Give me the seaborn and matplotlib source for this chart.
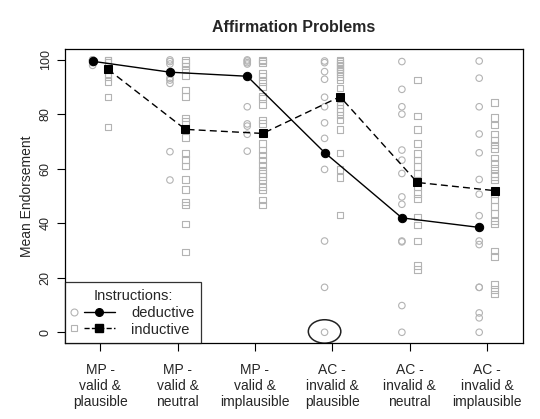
import numpy as np
import pandas as pd
import seaborn as sns
import matplotlib
matplotlib.use("Agg")
import matplotlib.pyplot as plt
from matplotlib.lines import Line2D
from matplotlib.patches import Ellipse
from matplotlib.legend_handler import HandlerBase

# conditions on the x axis
conditions = ["MP -\nvalid &\nplausible", "MP -\nvalid &\nneutral", "MP -\nvalid &\nimplausible",
              "AC -\ninvalid &\nplausible", "AC -\ninvalid &\nneutral", "AC -\ninvalid &\nimplausible"]

# mean endorsement per condition
ded_means = [99.5, 95.5, 94.0, 66.0, 42.0, 38.5]
ind_means = [96.5, 74.5, 73.0, 86.5, 55.0, 52.0]

# individual endorsement ratings
ded_points = [
    [100, 100, 100, 99, 98],
    [100, 99.4, 98.5, 93.3, 92.6, 91.4, 66.3, 55.9],
    [100, 99.6, 99, 98.5, 82.8, 76.5, 75.7, 72.7, 66.5],
    [99.6, 99, 95.7, 92.9, 86.3, 82.8, 76.9, 71.2, 59.8, 33.5, 16.5, 0],
    [99.4, 89.2, 82.8, 80.1, 66.9, 63.2, 58.3, 49.7, 47, 33.5, 33.2, 9.8, 0],
    [99.6, 93.3, 82.8, 72.8, 65.9, 56.1, 50.7, 42.8, 33.5, 32.2, 16.5, 16.5, 7.1, 5.3, 0],
]
ind_points = [
    [100, 100, 99, 97.5, 96.3, 95, 93.9, 92, 86.3, 75.3],
    [100, 99, 97.8, 96.3, 94.2, 89, 86.5, 78.6, 77.3, 74.5, 71.6, 65.7, 63.5, 61, 56.1,
     52.5, 47.9, 46.7, 39.7, 29.4],
    [100, 99.6, 98.8, 95.1, 93.9, 92, 90.2, 86.5, 85.9, 83.5, 77.9, 76.7, 73, 69.4, 66.9,
     65.1, 63.2, 61.4, 59.6, 58.3, 57.1, 55.9, 53.4, 52.2, 48.5, 46.7],
    [100, 99.4, 98.8, 98.2, 97.5, 96.9, 96.3, 95.7, 95.1, 93.9, 92.6, 89.6, 84.7, 83.5,
     82.2, 81, 79.8, 77.9, 74.5, 65.9, 59.8, 56.9, 43],
    [92.6, 79.4, 74.5, 69.4, 65.7, 63.2, 60.8, 58.3, 55.9, 53.4, 51, 49.2, 42.4, 39.3,
     33.5, 24.6, 23],
    [84.4, 78.9, 76.1, 72.8, 70.6, 68.8, 67.5, 63.9, 62, 60.2, 58.3, 57.1, 55.9, 51, 48.5,
     46.1, 43.6, 40.9, 39.7, 29.9, 27.9, 17.6, 15.7, 14],
]

shift = 0.1
grey = "#b3b3b3"

rows = []
for i in range(len(conditions)):
    for v in ded_points[i]:
        rows.append({"x": i + 1 - shift, "y": v, "instr": "deductive"})
    for v in ind_points[i]:
        rows.append({"x": i + 1 + shift, "y": v, "instr": "inductive"})
pts = pd.DataFrame(rows)

means = pd.DataFrame({
    "x": np.r_[np.arange(1, 7) - shift, np.arange(1, 7) + shift],
    "y": ded_means + ind_means,
    "instr": ["deductive"] * 6 + ["inductive"] * 6,
})

sns.set_style("white")
plt.rcParams["font.family"] = ["Liberation Sans", "DejaVu Sans"]

fig = plt.figure(figsize=(5.4, 4.19), dpi=100)
ax = fig.add_axes([0.120, 0.181, 0.849, 0.702])

sns.scatterplot(data=pts, x="x", y="y", style="instr", markers={"deductive": "o", "inductive": "s"},
                facecolors="none", edgecolor=grey, linewidth=0.8, s=22, legend=False, ax=ax)

sns.lineplot(data=means, x="x", y="y", hue="instr", style="instr",
             palette={"deductive": "black", "inductive": "black"},
             dashes={"deductive": "", "inductive": (5, 3)},
             markers={"deductive": "o", "inductive": "s"}, markersize=6,
             markeredgecolor="black", linewidth=1, legend=False, ax=ax)

# hand drawn circle around the zero rating
ax.add_patch(Ellipse((4 - shift, 0.3), 0.42, 8.6, fill=False, edgecolor="#222222", lw=1.1, clip_on=False))

ax.set_xlim(0.54, 6.47)
ax.set_ylim(-4, 104)
ax.set_xticks(range(1, 7))
ax.set_xticklabels(conditions, fontsize=10, linespacing=1.2)
ax.set_yticks(range(0, 101, 20))
ax.set_yticklabels([str(v) for v in range(0, 101, 20)], rotation=90, va="center", fontsize=9)
ax.tick_params(axis="both", direction="out", length=6, width=0.8, color="black", left=True, bottom=True)
ax.tick_params(axis="x", pad=8)
ax.set_xlabel("")
ax.set_ylabel("Mean Endorsement", fontsize=10, labelpad=4)
ax.set_title("Affirmation Problems", fontsize=11.5, fontweight="bold", pad=12)
for sp in ax.spines.values():
    sp.set_visible(True)
    sp.set_color("black")
    sp.set_linewidth(0.9)


class PairHandler(HandlerBase):
    def create_artists(self, legend, orig_handle, xdescent, ydescent, width, height, fontsize, trans):
        mk, ln = orig_handle
        y = (height - ydescent) / 2
        x0 = -xdescent
        a = Line2D([x0 + 0.05 * width], [y], ls="none", marker=mk.get_marker(), mfc="none",
                   mec=grey, ms=5, mew=0.8, transform=trans)
        b = Line2D([x0 + 0.28 * width, x0 + width], [y, y], color="black", ls=ln.get_linestyle(),
                   lw=1, transform=trans)
        c = Line2D([x0 + 0.64 * width], [y], ls="none", marker=ln.get_marker(), color="black",
                   ms=5.5, transform=trans)
        return [a, b, c]


h_ded = (Line2D([], [], marker="o"), Line2D([], [], marker="o", ls="-"))
h_ind = (Line2D([], [], marker="s"), Line2D([], [], marker="s", ls="--"))
leg = ax.legend([h_ded, h_ind], ["deductive", "inductive"], handler_map={tuple: PairHandler()},
                title="Instructions:", loc="lower left", frameon=True, fancybox=False,
                edgecolor="black", borderaxespad=0, handlelength=3.0, handletextpad=1.1,
                fontsize=10.5, title_fontsize=10.5, labelspacing=0.2, borderpad=0.45)
leg.get_frame().set_linewidth(0.9)

fig.savefig("out.png", dpi=100)
